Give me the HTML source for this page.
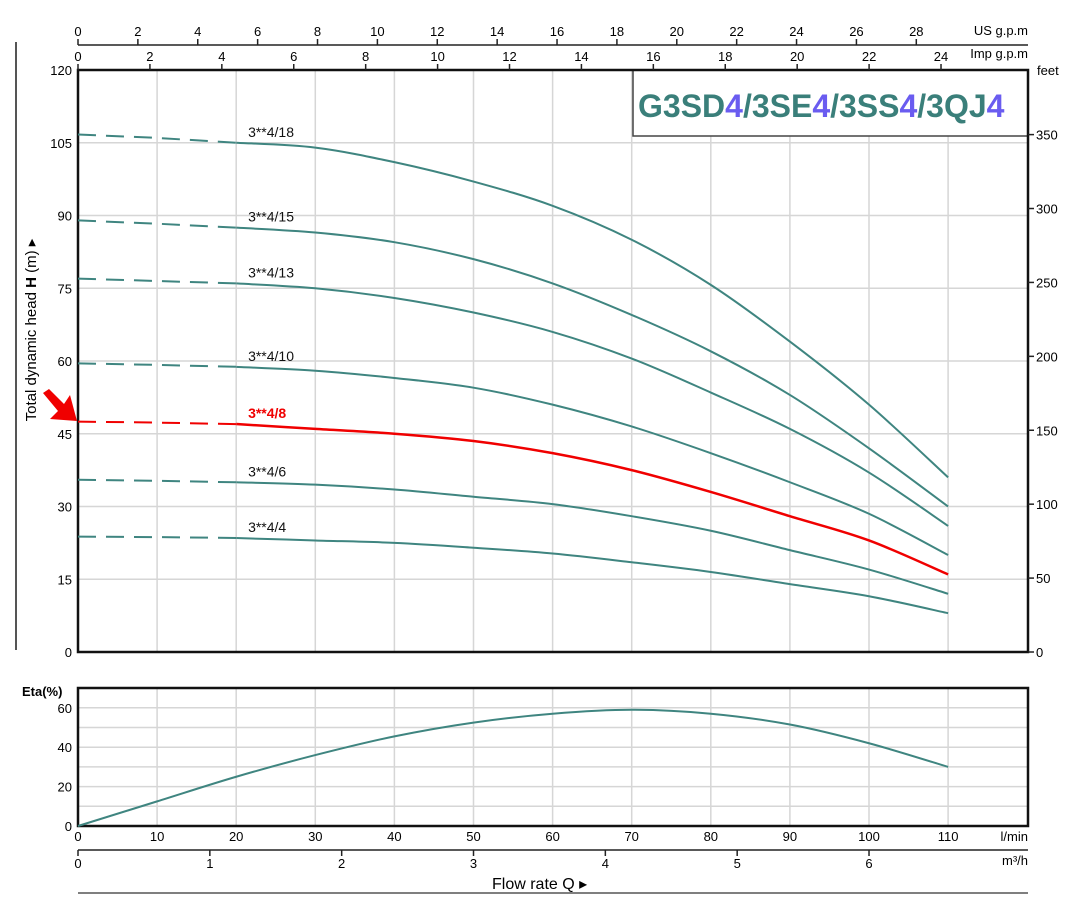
<!DOCTYPE html>
<html><head><meta charset="utf-8"><style>
body{margin:0;background:#fff;}
svg text{font-family:"Liberation Sans",sans-serif;}
</style></head><body>
<svg id="c" width="1074" height="909" viewBox="0 0 1074 909" xmlns="http://www.w3.org/2000/svg"></svg>
<script>
const flows=[0,10,20,30,40,50,60,70,80,90,100,110];
const curveNames=["3**4/18","3**4/15","3**4/13","3**4/10","3**4/8","3**4/6","3**4/4"];
const h18=[106.7,106,105,104,101,97,92,85,75.7,64,51,36];
const h15=[89,88.3,87.5,86.5,84.5,81,76,69.5,62,53,42,30];
const h13=[77,76.5,76,75,73,70,66,60.5,53.5,46,37,26];
const h10=[59.5,59.2,58.8,58,56.5,54.5,51,46.5,41,35,28.5,20];
const h8=[47.5,47.3,47,46,45,43.5,41,37.5,33,28,23,16];
const h6=[35.5,35.3,35,34.5,33.5,32,30.5,28,25,21,17,12];
const h4=[23.8,23.7,23.5,23,22.5,21.5,20.3,18.5,16.5,14,11.5,8];
const eta=[0,12.5,25,36,45.5,52.5,57,59,57,51.5,42,30];
const hTicks=[0,15,30,45,60,75,90,105,120];
const feetTicks=[0,50,100,150,200,250,300,350];
const etaTicks=[0,20,40,60];
const qTicks=[0,10,20,30,40,50,60,70,80,90,100,110];
const m3Ticks=[0,1,2,3,4,5,6];
const usTicks=[0,2,4,6,8,10,12,14,16,18,20,22,24,26,28];
const impTicks=[0,2,4,6,8,10,12,14,16,18,20,22,24];

const svg=document.getElementById('c');
const NS="http://www.w3.org/2000/svg";
const X0=78,X1=1028,PX=7.91;
const x=q=>X0+q*PX;
const yH=h=>652-h*4.85;
const yE=e=>826-e*1.97;
function el(t,a,name,parent){const e=document.createElementNS(NS,t);for(const k in a)e.setAttribute(k,a[k]);


(parent||svg).appendChild(e);return e;}
function txt(s,a,name){const e=el('text',a,name);e.textContent=s;return e;}

for(const q of qTicks) if(q>0) el('line',{x1:x(q),x2:x(q),y1:70,y2:652,stroke:'#d6d6d6','stroke-width':1.5},'grid-v');
for(const h of hTicks) if(h>0&&h<120) el('line',{x1:X0,x2:X1,y1:yH(h),y2:yH(h),stroke:'#d6d6d6','stroke-width':1.5},'grid-h');
for(const q of qTicks) if(q>0) el('line',{x1:x(q),x2:x(q),y1:688,y2:826,stroke:'#d6d6d6','stroke-width':1.5},'eta-grid-v');
for(let e=10;e<=60;e+=10) el('line',{x1:X0,x2:X1,y1:yE(e),y2:yE(e),stroke:'#d6d6d6','stroke-width':1.5},'eta-grid-h');

el('rect',{x:633,y:70,width:395,height:66,fill:'#fff',stroke:'#444','stroke-width':1.5},'title-box');
const tt=el('text',{x:638,y:117,'font-size':32,'font-weight':'bold',fill:'#3a7f7a'},'chart-title');
[["G3SD","#3a7f7a"],["4","#6a5cf0"],["/3SE","#3a7f7a"],["4","#6a5cf0"],["/3SS","#3a7f7a"],["4","#6a5cf0"],["/3QJ","#3a7f7a"],["4","#6a5cf0"]].forEach(([s,c])=>{const t=el('tspan',{fill:c},'title-part',tt);t.textContent=s;});

el('rect',{x:X0,y:70,width:X1-X0,height:582,fill:'none',stroke:'#111','stroke-width':2.5},'head-plot-frame');
el('rect',{x:X0,y:688,width:X1-X0,height:138,fill:'none',stroke:'#111','stroke-width':2.5},'eta-plot-frame');
el('line',{x1:16,x2:16,y1:42,y2:650,stroke:'#555','stroke-width':2},'left-bar');

el('line',{x1:X0,x2:X1,y1:45,y2:45,stroke:'#222','stroke-width':1.5},'us-gpm-axis');
for(const g of usTicks){const xx=x(g*3.785);el('line',{x1:xx,x2:xx,y1:39,y2:45,stroke:'#222','stroke-width':1.5},'us-tick');txt(g,{x:xx,y:36,'font-size':13,'text-anchor':'middle'},'us-tick-label');}
txt('US g.p.m',{x:1028,y:35,'font-size':13,'text-anchor':'end'},'us-gpm-unit');
txt('Imp g.p.m',{x:1028,y:58,'font-size':13,'text-anchor':'end'},'imp-gpm-unit');
for(const g of impTicks){const xx=x(g*4.546);el('line',{x1:xx,x2:xx,y1:64,y2:70,stroke:'#222','stroke-width':1.5},'imp-tick');txt(g,{x:xx,y:61,'font-size':13,'text-anchor':'middle'},'imp-tick-label');}

for(const h of hTicks) txt(h,{x:72,y:yH(h)+5,'font-size':13,'text-anchor':'end'},'h-tick-label');
txt('feet',{x:1037,y:75,'font-size':13},'feet-unit');
for(const f of feetTicks){const yy=yH(f*0.3048);el('line',{x1:X1,x2:X1+6,y1:yy,y2:yy,stroke:'#222','stroke-width':1.5},'feet-tick');txt(f,{x:1036,y:yy+5,'font-size':13},'feet-tick-label');}
const yt=el('text',{x:0,y:0,'font-size':15,'text-anchor':'middle',transform:'translate(36,330) rotate(-90)'},'y-axis-title');
[['Total dynamic head ','normal'],['H','bold'],[' (m) \u25B8','normal']].forEach(([s,w])=>{const t=el('tspan',{'font-weight':w},'y-title-part',yt);t.textContent=s;});

txt('Eta(%)',{x:22,y:696,'font-size':13,'font-weight':'bold'},'eta-axis-title');
for(const e of etaTicks) txt(e,{x:72,y:yE(e)+5,'font-size':13,'text-anchor':'end'},'eta-tick-label');
for(const q of qTicks) txt(q,{x:x(q),y:841,'font-size':13,'text-anchor':'middle'},'q-tick-label');
txt('l/min',{x:1028,y:841,'font-size':13,'text-anchor':'end'},'lmin-unit');
el('line',{x1:X0,x2:X1,y1:850,y2:850,stroke:'#222','stroke-width':1.5},'m3h-axis');
for(const m of m3Ticks){const xx=x(m*16.667);el('line',{x1:xx,x2:xx,y1:850,y2:856,stroke:'#222','stroke-width':1.5},'m3h-tick');txt(m,{x:xx,y:868,'font-size':13,'text-anchor':'middle'},'m3h-tick-label');}
txt('m³/h',{x:1028,y:865,'font-size':13,'text-anchor':'end'},'m3h-unit');
txt('Flow rate  Q  \u25B8',{x:492,y:889,'font-size':16},'x-axis-title');
el('line',{x1:X0,x2:X1,y1:893,y2:893,stroke:'#555','stroke-width':1.5},'bottom-bar');

const series=[h18,h15,h13,h10,h8,h6,h4];
function pathFrom(vals,i0,i1,yf){let d='';for(let i=i0;i<=i1;i++){d+=(i==i0?'M':'L')+x(flows[i]).toFixed(1)+','+yf(vals[i]).toFixed(1);}return d;}
function smooth(vals,i0,i1,yf){const p=[];for(let i=i0;i<=i1;i++)p.push([x(flows[i]),yf(vals[i])]);let d='M'+p[0][0]+','+p[0][1];
for(let i=0;i<p.length-1;i++){const a=p[i-1]||p[i],b=p[i],c=p[i+1],e=p[i+2]||c;
d+=' C'+(b[0]+(c[0]-a[0])/6)+','+(b[1]+(c[1]-a[1])/6)+' '+(c[0]-(e[0]-b[0])/6)+','+(c[1]-(e[1]-b[1])/6)+' '+c[0]+','+c[1];}return d;}
series.forEach((s,k)=>{const red=k==4;const col=red?'#f00000':'#3f8580';
el('path',{d:pathFrom(s,0,2,yH),fill:'none',stroke:col,'stroke-width':2,'stroke-dasharray':'18,10'},'curve-dashed-'+curveNames[k]);
el('path',{d:smooth(s,2,11,yH),fill:'none',stroke:col,'stroke-width':red?2.5:2},'curve-'+curveNames[k]);
txt(curveNames[k],{x:x(21.5),y:yH(s[2])-6,'font-size':14,fill:red?'#f00000':'#111','font-weight':red?'bold':'normal'},'curve-label');});
el('path',{d:smooth(eta,0,11,yE),fill:'none',stroke:'#3f8580','stroke-width':2},'eta-curve');

el('polygon',{points:'77,421 50,419 58,411 43,393 49,389 64,404 70,395',fill:'#f00000'},'selection-arrow');
</script>
</body></html>
